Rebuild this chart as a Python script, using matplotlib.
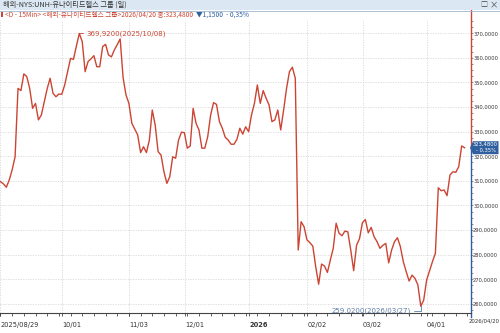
import matplotlib
matplotlib.use('Agg')
import matplotlib.pyplot as plt
from matplotlib.patches import Rectangle, Polygon
from matplotlib.ticker import FixedLocator, MultipleLocator
import numpy as np

plt.rcParams['font.family'] = ['Noto Sans CJK KR', 'DejaVu Sans']

# daily close, 2025/08/29 .. 2026/04/20 (trading days)
close = [
    309.7, 308.8, 307.4, 310.4, 314.5, 319.8, 347.6, 346.7, 353.5, 352.4,
    347.6, 339.5, 341.5, 334.8, 336.8, 342.2, 347.5, 351.7, 345.6, 344.2,
    345.3, 345.2, 349.0, 354.5, 359.8, 359.4, 364.8, 369.92, 366.6, 354.4,
    358.5, 359.6, 360.9, 356.4, 356.4, 364.6, 365.5, 361.2, 360.4, 363.2,
    365.4, 367.7, 352.0, 344.9, 341.5, 333.4, 331.0, 328.7, 321.5, 323.9,
    321.5, 326.6, 338.8, 332.7, 321.9, 320.5, 313.7, 309.0, 311.7, 319.8,
    319.2, 326.6, 329.8, 329.6, 323.3, 324.2, 339.5, 333.4, 330.7, 323.3,
    323.3, 328.0, 336.8, 341.8, 341.1, 334.1, 331.4, 327.7, 326.6, 324.9,
    324.9, 326.9, 331.4, 329.0, 332.0, 330.0, 336.8, 341.5, 349.0, 341.5,
    346.7, 343.6, 340.9, 334.1, 334.8, 338.8, 330.7, 338.8, 347.6, 354.4,
    356.2, 351.7, 281.9, 293.4, 291.4, 286.0, 284.9, 283.5, 275.1, 268.0,
    276.2, 275.4, 272.8, 277.8, 282.6, 292.8, 288.7, 287.7, 289.6, 289.3,
    281.9, 273.5, 283.9, 286.5, 293.0, 294.3, 288.9, 291.1, 287.3, 285.3,
    282.6, 283.8, 284.6, 276.7, 281.9, 285.3, 286.9, 283.3, 277.2, 273.1,
    269.3, 271.7, 270.4, 267.7, 259.02, 261.6, 269.7, 273.4, 277.2, 280.6,
    307.2, 306.0, 306.3, 304.0, 312.4, 313.7, 313.5, 315.8, 324.2, 323.48,
]
tick_days = [0, 22, 45, 64, 86, 106, 125, 147]
tick_labels = ['2025/08/29', '10/01', '11/03', '12/01', '2026', '02/02', '03/02', '04/01']
last_label = '2026/04/20'
y_ticks = [260, 270, 280, 290, 300, 310, 320, 330, 340, 350, 360, 370]
hi_idx, hi_date = 27, '2025/10/08'
lo_idx, lo_date = 144, '2026/03/27'
chg, chg_pct = -1.15, -0.35
title = '해외-NYS:UNH-유나이티드헬스 그룹 (일)'
name = '해외-유나이티드헬스 그룹'

RED = '#cc4433'
BLUE = '#2f5f9e'
GRID = '#d8d8d8'
TXT = '#333333'
NARROW = ['Liberation Sans Narrow', 'DejaVu Sans']

def fmt(v):
    return f'{v:.4f}'.replace('.', ',')

days = np.arange(len(close))
last_val = close[-1]

fig = plt.figure(figsize=(5, 3.33), dpi=100)
ax = fig.add_axes([0, 0.06, 0.942, 0.88])
ax.plot(days, close, color=RED, lw=1.0)
ax.set_xlim(-0.17, 161.2)
ax.set_ylim(256.3, 375.4)

# grid + ticks
grid_x = [max(d - 0.85, -0.1) for d in tick_days]
ax.xaxis.set_major_locator(FixedLocator(grid_x))
ax.set_xticklabels(tick_labels, fontsize=4.8, color=TXT, ha='left', family=NARROW)
for lab in ax.get_xticklabels():
    if lab.get_text() == '2026':
        lab.set_fontweight('bold')
ax.xaxis.set_minor_locator(MultipleLocator(4))
ax.tick_params(axis='x', which='both', length=2.5, width=0.6, color='#444', pad=4)
ax.yaxis.tick_right()
ax.set_yticks(y_ticks)
ax.set_yticklabels([fmt(v) for v in y_ticks], fontsize=3.7, color=TXT, family=NARROW)
ax.yaxis.set_minor_locator(MultipleLocator(2.5))
ax.tick_params(axis='y', which='both', length=1.2, width=0.5, color='#666', pad=0.3)
ax.grid(True, which='major', color=GRID, ls=(0, (1.5, 1.5)), lw=0.6)
for s in ['top', 'left', 'right']:
    ax.spines[s].set_visible(False)
ax.spines['bottom'].set_color('#444')
ax.spines['bottom'].set_linewidth(0.8)
fig.text(499.5 / 500, 1 - 321 / 333, last_label, fontsize=3.9, color=TXT,
         ha='right', va='center', family=NARROW)

# right axis line: red above the last price, blue below
yt = ax.get_yaxis_transform()
ax.plot([1, 1], [last_val, 379.5], transform=yt, color=RED, lw=1.0, clip_on=False)
ax.plot([1, 1], [254.5, last_val], transform=yt, color=BLUE, lw=1.0, clip_on=False)

# high / low annotations
ax.annotate(f'{fmt(close[hi_idx])}({hi_date})', xy=(hi_idx, close[hi_idx]),
            xytext=(7, 0), textcoords='offset pixels', fontsize=5, color=RED,
            ha='left', va='center', family=NARROW,
            arrowprops=dict(arrowstyle='-', color=RED, lw=0.6, shrinkA=0, shrinkB=0))
ax.annotate(f'{fmt(close[lo_idx])}({lo_date})', xy=(lo_idx, close[lo_idx]),
            xytext=(-10, -4.5), textcoords='offset pixels', fontsize=5, color='#5b7ca6',
            ha='right', va='center', family=NARROW, annotation_clip=False,
            arrowprops=dict(arrowstyle='-', color='#5b7ca6', lw=0.6, shrinkA=0, shrinkB=0,
                            connectionstyle='angle,angleA=0,angleB=90,rad=0'))

# last price box
fig.canvas.draw()
ypix = ax.transData.transform((0, last_val))[1]
xpix = ax.transAxes.transform((1, 0))[0]
box = Polygon([(xpix - 1, ypix), (xpix + 2, ypix + 6.5), (xpix + 27.5, ypix + 6.5),
               (xpix + 27.5, ypix - 6.5), (xpix + 2, ypix - 6.5)],
              closed=True, transform=None, facecolor=BLUE, edgecolor='none')
fig.patches.append(box)
fig.text((xpix + 14.5) / 500, (ypix + 3) / 333, fmt(last_val), fontsize=3.8, color='white',
         ha='center', va='center', family=NARROW)
fig.text((xpix + 14.5) / 500, (ypix - 3) / 333, f'- {abs(chg_pct):.2f}%'.replace('.', ','),
         fontsize=3.8, color='white', ha='center', va='center', family=NARROW)

# header bar
fig.patches.append(Rectangle((0, 1 - 10 / 333), 1, 10 / 333, transform=fig.transFigure,
                             facecolor='#dbe7f2', edgecolor='none'))
fig.add_artist(plt.Line2D([0, 1], [1 - 10.5 / 333] * 2, transform=fig.transFigure,
                          color='#9fb8d0', lw=0.6))
fig.text(3 / 500, 1 - 5 / 333, title, fontsize=5.2, color=TXT, va='center', ha='left')
fig.text(484 / 500, 1 - 5 / 333, '□', fontsize=5, color='#444', va='center', ha='center')
fig.text(494 / 500, 1 - 5 / 333, '×', fontsize=6, color='#444', va='center', ha='center')

# info line
fig.patches.append(Rectangle((1 / 500, 1 - 17 / 333), 1.5 / 500, 5 / 333,
                             transform=fig.transFigure, facecolor=RED, edgecolor='none'))
t1 = fig.text(5 / 500, 1 - 14.5 / 333,
              f'<D - 15Min> <{name}>2026/04/20 종:{fmt(last_val)}',
              fontsize=4.8, color=RED, va='center', ha='left')
t2 = fig.text(0, 0, f'  ▼{abs(chg):.4f}'.replace('.', ','), fontsize=4.8, color=BLUE)
t3 = fig.text(0, 0, f'  - {abs(chg_pct):.2f}%'.replace('.', ','), fontsize=4.8, color=BLUE)
r = fig.canvas.get_renderer()
bb = t1.get_window_extent(r)
t2.set_position((bb.x1 / 500, 1 - 14.5 / 333)); t2.set_va('center')
bb2 = t2.get_window_extent(r)
t3.set_position((bb2.x1 / 500, 1 - 14.5 / 333)); t3.set_va('center')

fig.savefig('out.png', dpi=100)
